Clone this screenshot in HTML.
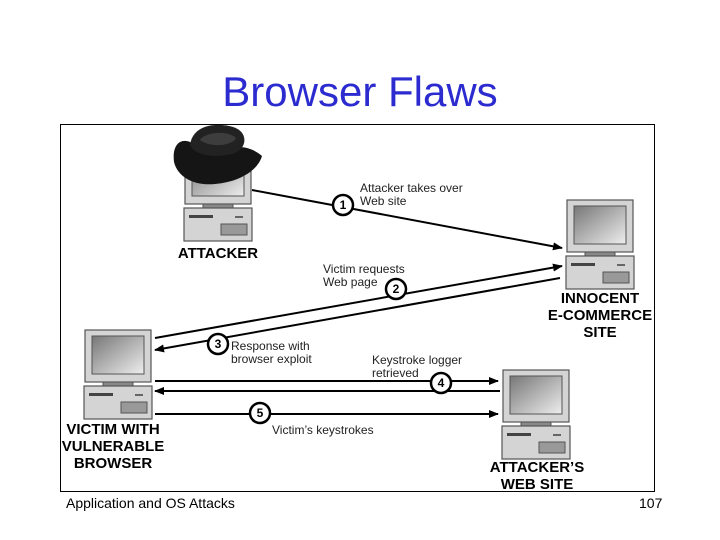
<!DOCTYPE html>
<html><head><meta charset="utf-8"><style>
body{margin:0;background:#fff;width:720px;height:540px;overflow:hidden;position:relative;font-family:"Liberation Sans",sans-serif}
.t{position:absolute;left:0;width:720px;top:68px;text-align:center;font-size:42px;color:#2b2bd0;font-family:"Liberation Sans",sans-serif}
.f{position:absolute;top:495px;font-size:14px;color:#000}
</style></head><body>
<div class="t">Browser Flaws</div>
<svg width="720" height="540" style="position:absolute;left:0;top:0">
<defs>
<linearGradient id="sc" x1="0" y1="0" x2="1" y2="1"><stop offset="0" stop-color="#777"/><stop offset="1" stop-color="#eee"/></linearGradient>
<marker id="ah" markerWidth="10" markerHeight="8" refX="9" refY="4" orient="auto" markerUnits="userSpaceOnUse"><path d="M0,0 L10,4 L0,8z" fill="#000"/></marker>
<g id="pc">
<rect x="0" y="0" width="66" height="52" fill="#d4d4d4" stroke="#555" stroke-width="1.2"/>
<rect x="7" y="6" width="52" height="38" fill="url(#sc)" stroke="#555"/>
<rect x="18" y="52" width="30" height="4" fill="#888" stroke="#555"/>
<rect x="-1" y="56" width="68" height="33" fill="#d4d4d4" stroke="#555" stroke-width="1.2"/>
<rect x="4" y="63" width="24" height="3" fill="#444"/>
<rect x="36" y="72" width="26" height="11" fill="#999" stroke="#555"/>
<rect x="50" y="64" width="8" height="2" fill="#666"/>
</g>
</defs>
<rect x="60.5" y="124.5" width="594" height="367" fill="none" stroke="#000"/>
<use href="#pc" x="185" y="152"/>
<use href="#pc" x="567" y="200"/>
<use href="#pc" x="85" y="330"/>
<use href="#pc" x="503" y="370"/>
<!-- hat -->
<path d="M174,162 C172,145 180,138 190,142 C200,150 215,152 232,148 C245,145 255,150 262,156 C258,170 240,182 215,184 C195,186 178,178 174,162Z" fill="#151515"/>
<path d="M190,145 C192,130 205,124 222,125 C235,126 242,130 244,137 C246,145 240,152 232,154 C215,158 195,156 190,145Z" fill="#222"/>
<path d="M200,140 C205,132 228,130 236,138 C232,146 210,148 200,140Z" fill="#3d3d3d"/>
<g stroke="#000" stroke-width="2" fill="none">
<line x1="252" y1="190" x2="562" y2="248" marker-end="url(#ah)"/>
<line x1="155" y1="338" x2="562" y2="266" marker-end="url(#ah)"/>
<line x1="560" y1="278" x2="155" y2="350" marker-end="url(#ah)"/>
<line x1="155" y1="381" x2="498" y2="381" marker-end="url(#ah)"/>
<line x1="500" y1="391" x2="155" y2="391" marker-end="url(#ah)"/>
<line x1="155" y1="414" x2="498" y2="414" marker-end="url(#ah)"/>
</g>
<g stroke="#000" stroke-width="2.5" fill="#fff">
<circle cx="343" cy="205" r="10"/><circle cx="396" cy="289" r="10"/><circle cx="218" cy="344" r="10"/><circle cx="441" cy="383" r="10"/><circle cx="260" cy="413" r="10"/>
</g>
<g font-family="Liberation Sans,sans-serif" font-weight="bold" font-size="12" text-anchor="middle">
<text x="343" y="209">1</text><text x="396" y="293">2</text><text x="218" y="348">3</text><text x="441" y="387">4</text><text x="260" y="417">5</text>
</g>
<g font-family="Liberation Sans,sans-serif" font-size="12" fill="#222">
<text x="360" y="192">Attacker takes over</text><text x="360" y="205">Web site</text>
<text x="323" y="273">Victim requests</text><text x="323" y="286">Web page</text>
<text x="231" y="350">Response with</text><text x="231" y="363">browser exploit</text>
<text x="372" y="364">Keystroke logger</text><text x="372" y="377">retrieved</text>
<text x="272" y="434">Victim’s keystrokes</text>
</g>
<g font-family="Liberation Sans,sans-serif" font-weight="bold" font-size="15" text-anchor="middle" fill="#000">
<text x="218" y="258">ATTACKER</text>
<text x="600" y="303">INNOCENT</text><text x="600" y="320">E-COMMERCE</text><text x="600" y="337">SITE</text>
<text x="113" y="434">VICTIM WITH</text><text x="113" y="451">VULNERABLE</text><text x="113" y="468">BROWSER</text>
<text x="537" y="472">ATTACKER’S</text><text x="537" y="489">WEB SITE</text>
</g>
</svg>
<div class="f" style="left:66px">Application and OS Attacks</div>
<div class="f" style="left:639px">107</div>
</body></html>
